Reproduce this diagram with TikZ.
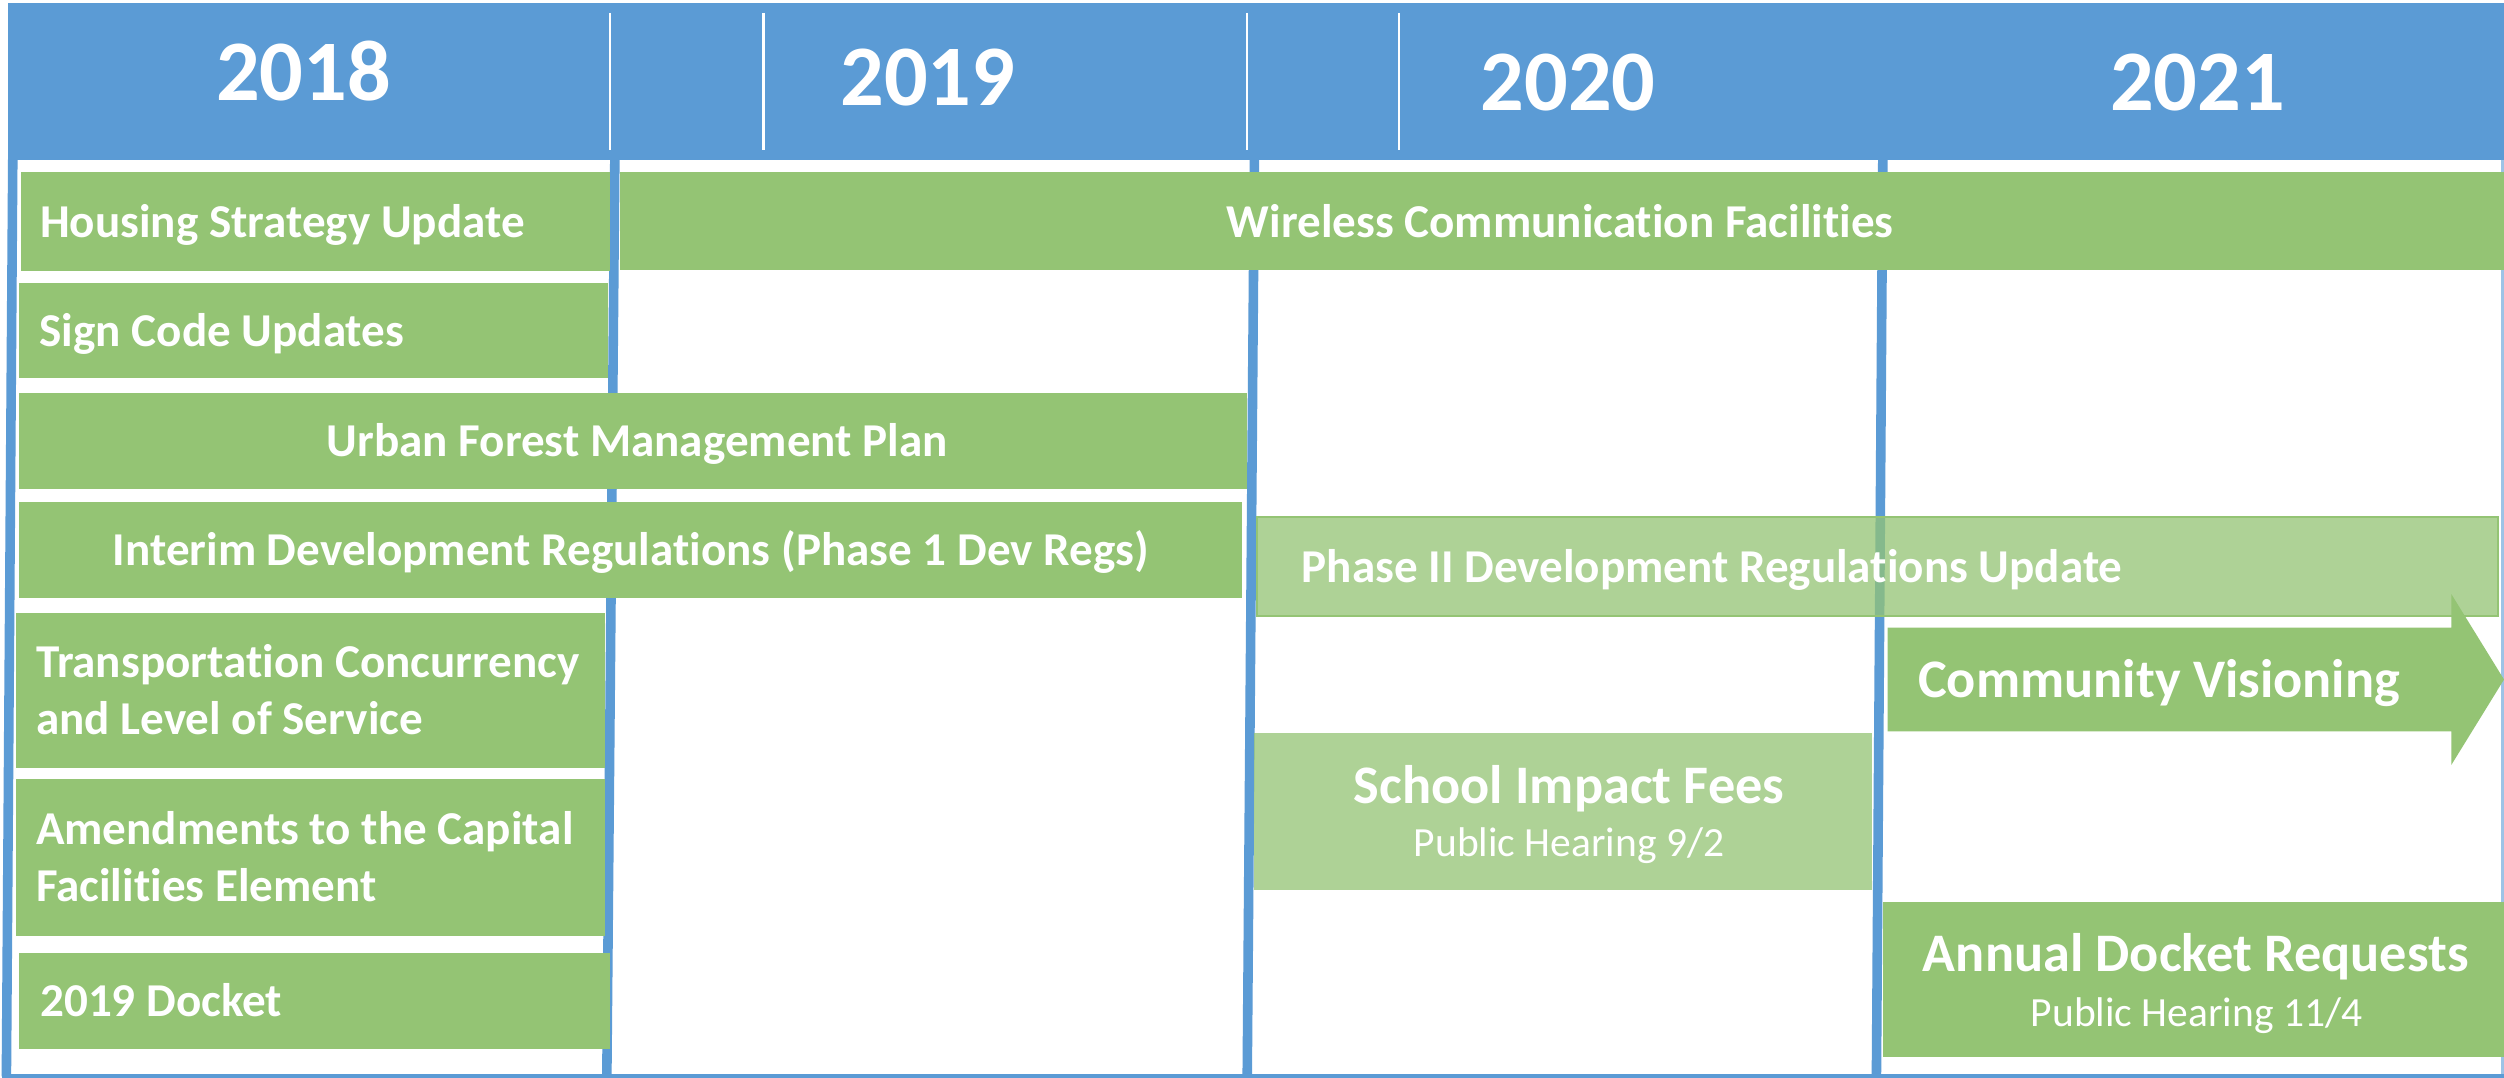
\documentclass[tikz,border=0pt]{standalone}
\usepackage{fontspec}
\setmainfont{Carlito}[Ligatures=NoCommon]
\definecolor{hblue}{HTML}{5B9BD5}
\definecolor{bgreen}{HTML}{94C474}
\begin{document}
\begin{tikzpicture}[x=1pt,y=-1pt,
  box/.style={fill=bgreen, draw=none, inner sep=0pt, outer sep=0pt, anchor=north west},
  lbox/.style={box, fill=bgreen, fill opacity=0.75},
  sep/.style={draw=hblue, line width=6pt},
  hline/.style={draw=white, line width=1.5pt},
  lbl/.style={text=white, inner sep=0pt, font=\bfseries\fontsize{29.5}{36}\selectfont},
  big/.style={text=white, inner sep=0pt, font=\bfseries\fontsize{34}{40}\selectfont},
  sub/.style={text=white, inner sep=0pt, font=\fontsize{26}{31}\selectfont},
  year/.style={text=white, inner sep=0pt, font=\bfseries\fontsize{54}{60}\selectfont}]
\useasboundingbox (0,0) rectangle (1568,675);
\fill[white] (0,0) rectangle (1568,675);
% header
\node[box, fill=hblue, minimum width=1563pt, minimum height=98pt] (hdr) at (5,2) {};
\draw[hline] (382,8) -- (382,94);
\draw[hline] (478,8) -- (478,94);
\draw[hline] (781,8) -- (781,94);
\draw[hline] (876,8) -- (876,94);
\node[year, anchor=base] (y18) at (190,63) {2018};
\node[year, anchor=base] (y19) at (581,66) {2019};
\node[year, anchor=base] (y20) at (982,69) {2020};
\node[year, anchor=base] (y21) at (1376,69) {2021};
% grid lines
\draw[sep] (8,100) -- (4,674);
\draw[sep] (385,100) -- (380,674);
\draw[sep] (785.5,100) -- (781,674);
\draw[sep] (1179,100) -- (1175,674);
\draw[draw=hblue!60, line width=1.5pt] (1567,100) -- (1567,674);
\draw[draw=hblue, line width=3pt] (1,674) -- (1568,674);
% boxes
\node[box, minimum width=369pt, minimum height=62pt] (hsu) at (13,108) {};
\node[box, minimum width=1180pt, minimum height=61pt] (wcf) at (388,108) {};
\node[box, minimum width=369pt, minimum height=60pt] (scu) at (12,177) {};
\node[box, minimum width=769pt, minimum height=60pt] (ufm) at (12,246) {};
\node[box, minimum width=766pt, minimum height=60pt] (idr) at (12,314.5) {};
\node[lbox, draw=bgreen, line width=1.2pt, minimum width=777pt, minimum height=62pt] (p2) at (787,324) {};
\node[box, minimum width=369pt, minimum height=97pt] (tcl) at (10,384) {};
\node[box, minimum width=369pt, minimum height=98pt] (acf) at (10,488) {};
\node[box, minimum width=370pt, minimum height=60pt] (dk) at (12,597) {};
\node[lbox, minimum width=387pt, minimum height=98pt] (sif) at (785,459) {};
\node[box, minimum width=389pt, minimum height=97pt] (adr) at (1179,565) {};
\fill[bgreen] (1182,393) -- (1535,393) -- (1535,372) -- (1568,425.5) -- (1535,479) -- (1535,458) -- (1182,458) -- cycle;
% labels
\node[lbl, anchor=base west] (hsut) at (25,148.5) {Housing Strategy Update};
\node[lbl, anchor=base] (wcft) at (977,148.5) {Wireless Communication Facilities};
\node[lbl, anchor=base west] (scut) at (24.6,217) {Sign Code Updates};
\node[lbl, anchor=base] (ufmt) at (399,286) {Urban Forest Management Plan};
\node[lbl, anchor=base] (idrt) at (395,354) {Interim Development Regulations (Phase 1 Dev Regs)};
\node[lbl, anchor=base west] (p2t) at (815,365) {Phase II Development Regulations Update};
\node[lbl, anchor=base west] (tclt1) at (22.4,424) {Transportation Concurrency};
\node[lbl, anchor=base west] (tclt2) at (22.4,460) {and Level of Service};
\node[lbl, anchor=base west] (acft1) at (22.4,529) {Amendments to the Capital};
\node[lbl, anchor=base west] (acft2) at (22.4,564.5) {Facilities Element};
\node[lbl, anchor=base west] (dkt) at (25,636.5) {2019 Docket};
\node[big, anchor=base west] (cvt) at (1201,437) {Community Visioning};
\node[big, anchor=base] (sift) at (982.5,503) {School Impact Fees};
\node[sub, anchor=base] (sifs) at (982.5,536.5) {Public Hearing 9/2};
\node[big, anchor=base] (adrt) at (1375,608.6) {Annual Docket Requests};
\node[sub, anchor=base] (adrs) at (1375.5,642.5) {Public Hearing 11/4};
\end{tikzpicture}
\end{document}
